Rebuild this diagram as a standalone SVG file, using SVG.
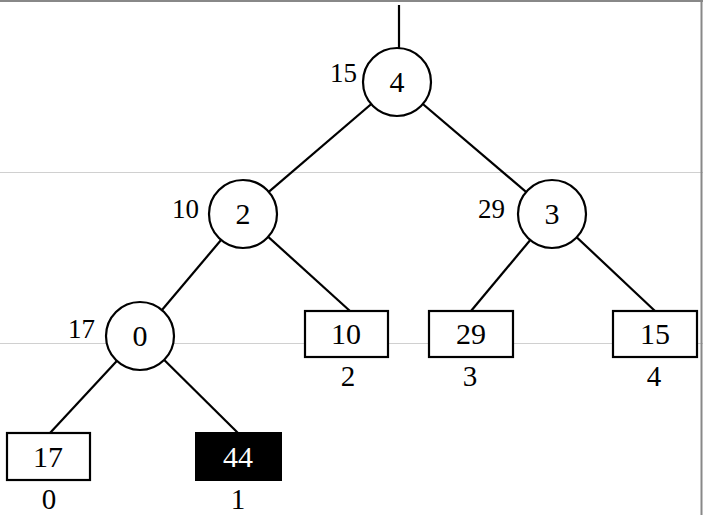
<svg xmlns="http://www.w3.org/2000/svg" width="703" height="515" viewBox="0 0 703 515">
<style>
text{font-family:"Liberation Serif","Times New Roman",serif;font-size:30px;fill:#000}
.s{font-size:27px}
.i{font-size:29px}
.c{fill:#fff;stroke:#000;stroke-width:2.2}
.b{fill:#fff;stroke:#000;stroke-width:2.2}
.e{stroke:#000;stroke-width:2.2;fill:none}
.g{stroke:#d0d0d0;stroke-width:1}
.m{text-anchor:middle}
</style>
<rect width="703" height="515" fill="#fff"/>
<line class="g" x1="0" y1="172.5" x2="703" y2="172.5"/>
<line class="g" x1="0" y1="343.5" x2="703" y2="343.5"/>
<line x1="0" y1="1" x2="703" y2="1" stroke="#888" stroke-width="2"/>
<line x1="701.5" y1="0" x2="701.5" y2="515" stroke="#888" stroke-width="2"/>
<g id="connectors">
<line class="e" x1="399" y1="5" x2="399" y2="49"/>
<line class="e" x1="397" y1="82" x2="243" y2="214"/>
<line class="e" x1="397" y1="82" x2="552" y2="214"/>
<line class="e" x1="243" y1="214" x2="140" y2="336"/>
<line class="e" x1="243" y1="214" x2="350" y2="311"/>
<line class="e" x1="552" y1="214" x2="471" y2="311"/>
<line class="e" x1="552" y1="214" x2="655" y2="311"/>
<line class="e" x1="140" y1="336" x2="50" y2="433"/>
<line class="e" x1="140" y1="336" x2="238" y2="433"/>
</g>
<g id="n4"><circle class="c" cx="397" cy="82" r="34"/><text class="m" x="397" y="92">4</text><text class="s" x="330" y="82">15</text></g>
<g id="n2"><circle class="c" cx="243" cy="214" r="34"/><text class="m" x="243" y="224">2</text><text class="s" x="172" y="218">10</text></g>
<g id="n3"><circle class="c" cx="552" cy="214" r="34"/><text class="m" x="552" y="224">3</text><text class="s" x="478" y="218">29</text></g>
<g id="n0"><circle class="c" cx="140" cy="336" r="34"/><text class="m" x="140" y="346">0</text><text class="s" x="68" y="338">17</text></g>
<g id="l2"><rect class="b" x="305" y="311" width="83" height="46"/><text class="m" x="346" y="344">10</text><text class="m i" x="348" y="386">2</text></g>
<g id="l3"><rect class="b" x="429" y="311" width="84" height="46"/><text class="m" x="471" y="344">29</text><text class="m i" x="470" y="386">3</text></g>
<g id="l4"><rect class="b" x="613" y="311" width="84" height="46"/><text class="m" x="655" y="344">15</text><text class="m i" x="654" y="386">4</text></g>
<g id="l0"><rect class="b" x="7" y="433" width="83" height="47"/><text class="m" x="48" y="467">17</text><text class="m i" x="49" y="509">0</text></g>
<g id="l1"><rect x="196" y="433" width="85" height="47" fill="#000" stroke="#000" stroke-width="2"/><text class="m" x="238" y="467" style="fill:#fff">44</text><text class="m i" x="238" y="509">1</text></g>
</svg>
